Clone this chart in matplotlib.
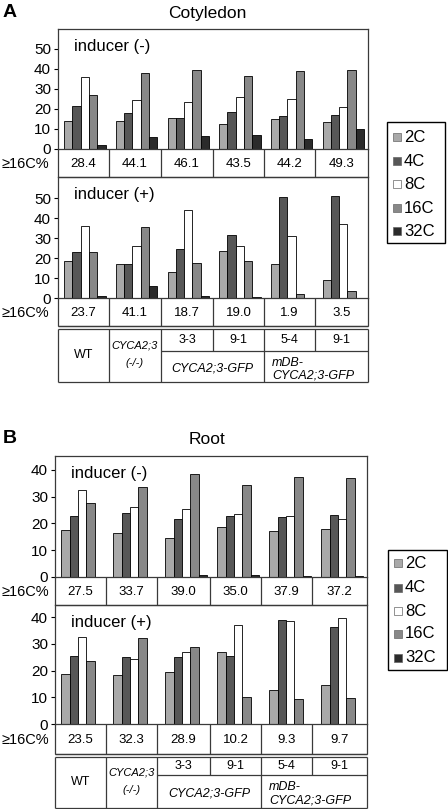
import matplotlib
matplotlib.use("Agg")
import matplotlib.pyplot as plt
import matplotlib.patches as mpatches
import numpy as np

plt.rcParams["font.family"] = ["Liberation Sans", "DejaVu Sans"]

W, H = 448, 809

PLOIDY = ["2C", "4C", "8C", "16C", "32C"]
COLORS = ["#a9a9a9", "#575757", "#ffffff", "#888888", "#2b2b2b"]

# Cotyledon, inducer (-) / (+) : rows = groups, cols = 2C..32C
COT_MINUS = [
    [13.8, 21.6, 35.9, 26.9, 2.0],
    [13.8, 17.9, 24.6, 38.0, 6.2],
    [15.4, 15.6, 23.3, 39.7, 6.5],
    [12.5, 18.4, 26.1, 36.6, 7.0],
    [15.1, 16.4, 24.9, 39.2, 5.0],
    [13.6, 16.9, 20.8, 39.4, 9.9],
]
COT_PLUS = [
    [18.3, 23.1, 35.8, 22.9, 1.1],
    [17.0, 17.2, 25.8, 35.4, 5.8],
    [13.0, 24.7, 43.8, 17.7, 1.1],
    [23.7, 31.7, 25.8, 18.7, 0.4],
    [17.0, 50.5, 30.8, 1.9, 0.0],
    [9.2, 51.2, 37.0, 3.5, 0.0],
]
ROOT_MINUS = [
    [17.4, 22.8, 32.4, 27.5, 0.0],
    [16.3, 23.9, 26.0, 33.7, 0.0],
    [14.4, 21.5, 25.3, 38.3, 0.8],
    [18.8, 22.8, 23.6, 34.2, 0.8],
    [17.0, 22.3, 22.8, 37.5, 0.4],
    [18.1, 23.0, 21.8, 37.0, 0.2],
]
ROOT_PLUS = [
    [18.7, 25.3, 32.5, 23.5, 0.0],
    [18.4, 24.9, 24.3, 32.3, 0.0],
    [19.3, 24.9, 26.9, 28.8, 0.1],
    [27.1, 25.5, 37.1, 10.2, 0.0],
    [12.8, 39.0, 38.7, 9.3, 0.0],
    [14.7, 36.1, 39.6, 9.7, 0.0],
]
COT_PCT_MINUS = ["28.4", "44.1", "46.1", "43.5", "44.2", "49.3"]
COT_PCT_PLUS = ["23.7", "41.1", "18.7", "19.0", "1.9", "3.5"]
ROOT_PCT_MINUS = ["27.5", "33.7", "39.0", "35.0", "37.9", "37.2"]
ROOT_PCT_PLUS = ["23.5", "32.3", "28.9", "10.2", "9.3", "9.7"]
LINES = ["3-3", "9-1", "5-4", "9-1"]

LC = "#3a3a3a"
LW = 0.9

fig = plt.figure(figsize=(W / 100, H / 100), dpi=100)


def rect(x0, y0, x1, y1):
    return [x0 / W, 1 - y1 / H, (x1 - x0) / W, (y1 - y0) / H]


def bar_panel(x0, x1, y0, y1, data, ymax, yticks, label):
    ax = fig.add_axes(rect(x0, y0, x1, y1))
    data = np.array(data)
    n = data.shape[0]
    w = 0.16
    for k in range(5):
        xs = np.arange(n) + (k - 2) * w + 0.02
        ax.bar(xs, data[:, k], width=w, color=COLORS[k], edgecolor="black",
               linewidth=0.6, zorder=2)
    ax.set_xlim(-0.5, n - 0.5)
    ax.set_ylim(0, ymax)
    ax.set_xticks([])
    ax.set_yticks(yticks)
    ax.tick_params(axis="y", labelsize=11, length=3, width=0.8, pad=2)
    for s in ax.spines.values():
        s.set_color(LC)
        s.set_linewidth(LW)
    ax.text(0.05, 0.92, label, transform=ax.transAxes, fontsize=12,
            ha="left", va="top")
    return ax


ov = fig.add_axes([0, 0, 1, 1], zorder=5)
ov.set_xlim(0, W)
ov.set_ylim(H, 0)
ov.axis("off")
ov.patch.set_alpha(0)


def hline(y, xa, xb):
    ov.plot([xa, xb], [y, y], color=LC, lw=LW, solid_capstyle="butt")


def vline(x, ya, yb):
    ov.plot([x, x], [ya, yb], color=LC, lw=LW, solid_capstyle="butt")


def pct_row(cols, ya, yb, vals):
    for x in cols:
        vline(x, ya, yb)
    hline(yb, cols[0], cols[-1])
    for i, v in enumerate(vals):
        ov.text((cols[i] + cols[i + 1]) / 2, (ya + yb) / 2 + 1, v,
                fontsize=9.5, ha="center", va="center")
    ov.text(2, (ya + yb) / 2 + 1, "≥16C%", fontsize=10.5, ha="left",
            va="center")


def geno_table(cols, ydbl, ymid, ybot):
    hline(ydbl, cols[0], cols[-1])
    hline(ydbl + 2.5, cols[0], cols[-1])
    top = ydbl + 2.5
    hline(ymid, cols[2], cols[-1])
    hline(ybot, cols[0], cols[-1])
    for x in [cols[0], cols[1], cols[2], cols[4], cols[6]]:
        vline(x, top, ybot)
    for x in [cols[3], cols[5]]:
        vline(x, top, ymid)
    cx = [(cols[i] + cols[i + 1]) / 2 for i in range(6)]
    yc = (top + ybot) / 2
    ov.text(cx[0], yc, "WT", fontsize=9, ha="center", va="center")
    ov.text(cx[1], yc - 10, "CYCA2;3", fontsize=8, style="italic",
            ha="center", va="center")
    ov.text(cx[1], yc + 8, "(-/-)", fontsize=8, style="italic",
            ha="center", va="center")
    for i, t in enumerate(LINES):
        ov.text(cx[i + 2], (top + ymid) / 2, t, fontsize=9, ha="center",
                va="center")
    ov.text((cols[2] + cols[4]) / 2, (ymid + ybot) / 2 + 2, "CYCA2;3-GFP",
            fontsize=9, style="italic", ha="center", va="center")
    ov.text(cols[4] + 8, (ymid + ybot) / 2 - 4, "mDB-", fontsize=9,
            style="italic", ha="left", va="center")
    ov.text(cols[4] + 8, (ymid + ybot) / 2 + 9, "CYCA2;3-GFP", fontsize=9,
            style="italic", ha="left", va="center")


def legend(x0, x1, y0, y1, ys):
    ov.add_patch(mpatches.Rectangle((x0, y0), x1 - x0, y1 - y0, fill=False,
                                    edgecolor="black", lw=1.0))
    for lab, c, y in zip(PLOIDY, COLORS, ys):
        ov.add_patch(mpatches.Rectangle((x0 + 6, y - 4), 8, 8, facecolor=c,
                                        edgecolor="#666666", lw=0.5))
        ov.text(x0 + 17, y, lab, fontsize=12, ha="left", va="center")


# ---------------- Panel A: Cotyledon ----------------
ov.text(3, 12, "A", fontsize=14, fontweight="bold", ha="left", va="center")
ov.text(207, 13, "Cotyledon", fontsize=12.5, ha="center", va="center")
colsA = [58, 109, 161, 213, 264, 315, 368]
bar_panel(58, 368, 29, 149, COT_MINUS, 60, range(0, 51, 10), "inducer (-)")
pct_row(colsA, 149, 177, COT_PCT_MINUS)
bar_panel(58, 368, 177, 298, COT_PLUS, 60.5, range(0, 51, 10), "inducer (+)")
pct_row(colsA, 298, 326, COT_PCT_PLUS)
geno_table(colsA, 326, 351, 382)
legend(387, 445, 122, 243, [137, 161, 184, 208, 231])

# ---------------- Panel B: Root ----------------
ov.text(3, 438, "B", fontsize=14, fontweight="bold", ha="left", va="center")
ov.text(207, 439, "Root", fontsize=12.5, ha="center", va="center")
colsB = [55, 106, 157, 210, 261, 312, 367]
bar_panel(55, 367, 456, 577, ROOT_MINUS, 45.2, range(0, 41, 10), "inducer (-)")
pct_row(colsB, 577, 605, ROOT_PCT_MINUS)
bar_panel(55, 367, 605, 724, ROOT_PLUS, 44.5, range(0, 41, 10), "inducer (+)")
pct_row(colsB, 724, 754, ROOT_PCT_PLUS)
geno_table(colsB, 754, 775, 808)
legend(388, 447, 550, 670, [563, 588, 611, 634, 658])

fig.savefig("out.png", dpi=100)
